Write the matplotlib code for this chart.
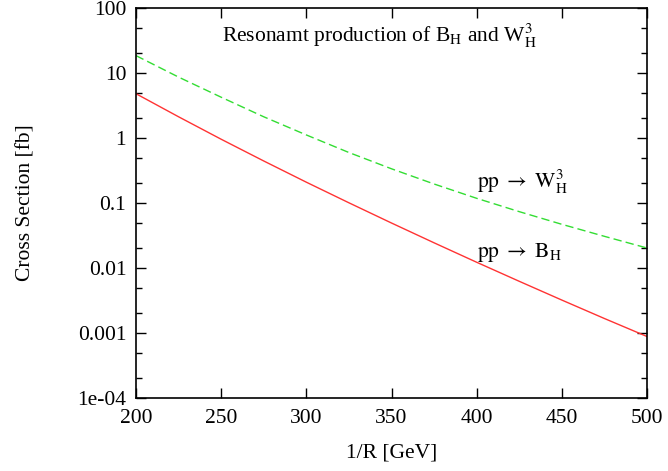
import matplotlib
matplotlib.use('Agg')
import matplotlib.pyplot as plt
from matplotlib.ticker import LogLocator, FixedLocator, FixedFormatter

plt.rcParams['font.family'] = ['Liberation Serif', 'DejaVu Serif']
plt.rcParams['mathtext.fontset'] = 'stix'

# 1/R [GeV]
inv_r = [200, 225, 250, 275, 300, 325, 350, 375, 400, 425, 450, 475, 500]
# pp -> W3_H (green dashed)
sigma_w = [18.5, 8.65, 4.24, 2.12, 1.114, 0.598, 0.336, 0.196, 0.118, 0.0736, 0.0470, 0.0307, 0.0203]
# pp -> B_H (red solid)
sigma_b = [4.80, 2.12, 0.957, 0.443, 0.209, 0.1007, 0.0492, 0.0244, 0.01225, 0.00624, 0.00321, 0.00167, 0.000883]

yticks = [100, 10, 1, 0.1, 0.01, 0.001, 0.0001]
ylabels = ['100', '10', '1', '0.1', '0.01', '0.001', '1e-04']

fig = plt.figure(figsize=(6.68, 4.71), dpi=100)
ax = fig.add_axes([0.2036, 0.155, 0.765, 0.828])

ax.plot(inv_r, sigma_w, color='#33dd33', linestyle=(0, (6, 3)), linewidth=1.0)
ax.plot(inv_r, sigma_b, color='#ff3333', linestyle='-', linewidth=1.0)

ax.set_yscale('log')
ax.set_xlim(200, 500)
ax.set_ylim(1e-4, 100)
ax.set_xticks(range(200, 501, 50))
ax.yaxis.set_major_locator(FixedLocator(yticks))
ax.yaxis.set_major_formatter(FixedFormatter(ylabels))
ax.yaxis.set_minor_locator(LogLocator(base=10, subs=(2.0, 5.0)))
ax.tick_params(which='both', direction='in', top=True, right=True, labelsize=15.5)
ax.tick_params(which='major', length=7, width=1)
ax.tick_params(which='minor', length=4, width=1)
ax.tick_params(axis='x', pad=8)
ax.tick_params(axis='y', pad=7)
for s in ax.spines.values():
    s.set_linewidth(1.2)

ax.set_xlabel('1/R [GeV]', fontsize=15.5, labelpad=11)
ax.set_ylabel('Cross Section [fb]', fontsize=15.5, labelpad=30)

ax.text(0.477, 0.913, r'Resonamt production of B$_\mathrm{H}$ and W$^\mathrm{3}_\mathrm{H}$',
        transform=ax.transAxes, ha='center', va='baseline', fontsize=15.5)
ax.text(0.667, 0.538, r'$\mathrm{pp}\ \rightarrow\ \mathrm{W}^\mathrm{3}_\mathrm{H}$',
        transform=ax.transAxes, ha='left', va='baseline', fontsize=15.5)
ax.text(0.667, 0.362, r'$\mathrm{pp}\ \rightarrow\ \mathrm{B}_\mathrm{H}$',
        transform=ax.transAxes, ha='left', va='baseline', fontsize=15.5)

plt.savefig('out.png')
